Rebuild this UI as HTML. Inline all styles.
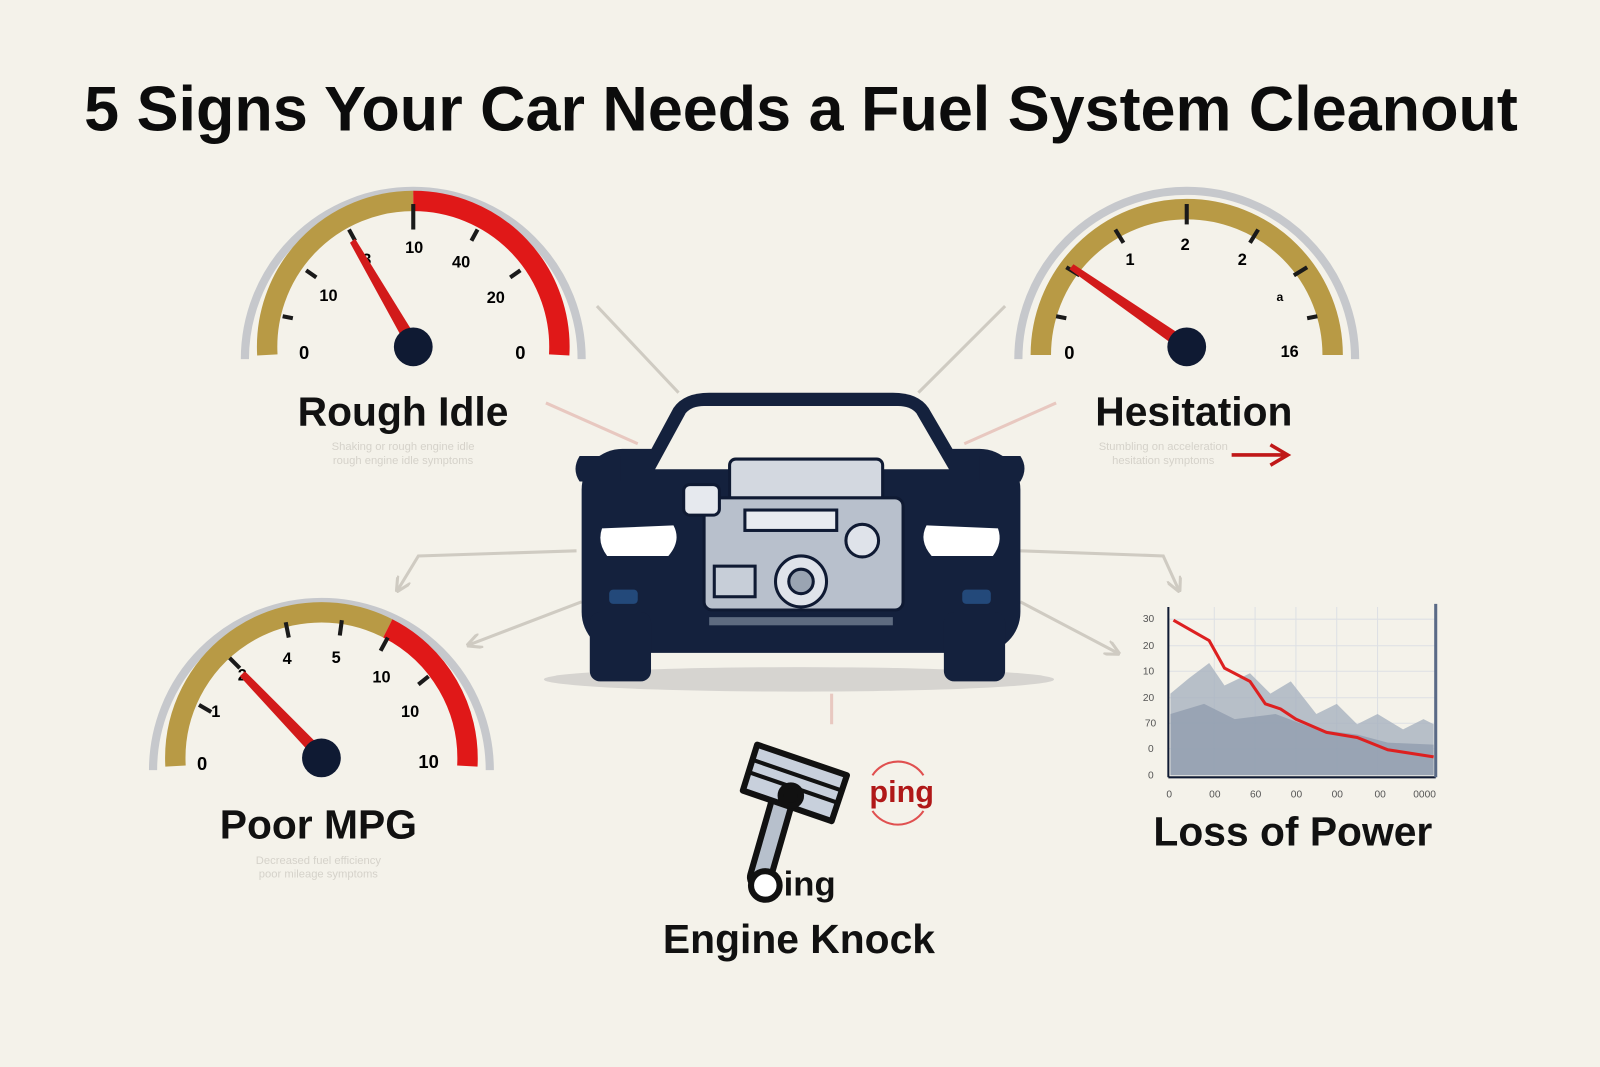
<!DOCTYPE html>
<html><head><meta charset="utf-8"><style>
html,body{margin:0;padding:0;background:#f4f2ea;}
svg{display:block}
text{font-family:"Liberation Sans",sans-serif;}
</style></head><body>
<svg width="1600" height="1067" viewBox="0 0 1568 1046" preserveAspectRatio="none" xmlns="http://www.w3.org/2000/svg">
<defs>
<marker id="ah" viewBox="0 0 10 10" refX="8" refY="5" markerWidth="5" markerHeight="5" orient="auto"><path d="M0,0 L10,5 L0,10" fill="none" stroke="#cfcbc2" stroke-width="2"/></marker>
</defs>
<rect width="1568" height="1046" fill="#f4f2ea"/>
<text x="785" y="128" text-anchor="middle" font-size="62" font-weight="bold" fill="#0c0c0c" textLength="1405" lengthAdjust="spacingAndGlyphs">5 Signs Your Car Needs a Fuel System Cleanout</text>

<!-- connectors -->
<g stroke="#cfcbc2" stroke-width="3" fill="none">
<line x1="585" y1="300" x2="665" y2="385"/>
<line x1="985" y1="300" x2="900" y2="385"/>
<line x1="1035" y1="395" x2="945" y2="435" stroke="#e8c8c0"/>
<line x1="535" y1="395" x2="625" y2="435" stroke="#e8c8c0"/>
<polyline points="565,540 410,545 390,578" marker-end="url(#ah)"/>
<polyline points="1000,540 1140,545 1155,578" marker-end="url(#ah)"/>
<line x1="570" y1="590" x2="460" y2="632" marker-end="url(#ah)"/>
<line x1="1000" y1="590" x2="1095" y2="640" marker-end="url(#ah)"/>
<line x1="815" y1="680" x2="815" y2="710" stroke="#e8c8c0"/>
</g>

<!-- Gauge 1 -->
<g transform="translate(405,340)">
<path d="M-165,12 A165,165 0 0 1 165,12" fill="none" stroke="#c6c8cc" stroke-width="8"/>
<path d="M-143,8 A143,143 0 0 1 0,-143" fill="none" stroke="#b89a45" stroke-width="20"/>
<path d="M0,-143 A143,143 0 0 1 143,8" fill="none" stroke="#e01818" stroke-width="20"/>
<g stroke="#1a1a1a" stroke-width="4">
<line x1="-128" y1="-30" x2="-118" y2="-28"/><line x1="-105" y1="-75" x2="-95" y2="-68"/>
<line x1="-63" y1="-115" x2="-57" y2="-104"/><line x1="0" y1="-140" x2="0" y2="-115"/>
<line x1="63" y1="-115" x2="57" y2="-104"/><line x1="105" y1="-75" x2="95" y2="-68"/>
</g>
<text x="-112" y="12" font-size="18" font-weight="bold">0</text>
<text x="-92" y="-45" font-size="16" font-weight="bold">10</text>
<text x="-50" y="-80" font-size="16" font-weight="bold">3</text>
<text x="-8" y="-92" font-size="16" font-weight="bold">10</text>
<text x="38" y="-78" font-size="16" font-weight="bold">40</text>
<text x="72" y="-43" font-size="16" font-weight="bold">20</text>
<text x="100" y="12" font-size="18" font-weight="bold">0</text>
<polygon points="-62,-102 -57,-106 6,-4 -4,4" fill="#d21a1a"/>
<circle r="19" fill="#0f1a33"/>
</g>
<text x="395" y="417" text-anchor="middle" font-size="40" font-weight="bold" fill="#111">Rough Idle</text>
<text x="395" y="441" text-anchor="middle" font-size="11" fill="#d5d2ca">Shaking or rough engine idle</text>
<text x="395" y="455" text-anchor="middle" font-size="11" fill="#d5d2ca">rough engine idle symptoms</text>

<!-- Gauge 2 -->
<g transform="translate(1163,340)">
<path d="M-165,12 A165,165 0 0 1 165,12" fill="none" stroke="#c6c8cc" stroke-width="8"/>
<path d="M-143,8 A143,143 0 0 1 143,8" fill="none" stroke="#b89a45" stroke-width="20"/>
<g stroke="#1a1a1a" stroke-width="4">
<line x1="-128" y1="-30" x2="-118" y2="-28"/><line x1="-118" y1="-78" x2="-105" y2="-70"/>
<line x1="-70" y1="-115" x2="-62" y2="-102"/><line x1="0" y1="-140" x2="0" y2="-120"/>
<line x1="70" y1="-115" x2="62" y2="-102"/><line x1="118" y1="-78" x2="105" y2="-70"/>
<line x1="128" y1="-30" x2="118" y2="-28"/>
</g>
<text x="-120" y="12" font-size="18" font-weight="bold">0</text>
<text x="-60" y="-80" font-size="16" font-weight="bold">1</text>
<text x="-6" y="-95" font-size="16" font-weight="bold">2</text>
<text x="50" y="-80" font-size="16" font-weight="bold">2</text>
<text x="88" y="-45" font-size="12" font-weight="bold">a</text>
<text x="92" y="10" font-size="16" font-weight="bold">16</text>
<polygon points="-115,-76 -111,-81 6,-4 -2,6" fill="#d21a1a"/>
<circle r="19" fill="#0f1a33"/>
</g>
<text x="1170" y="417" text-anchor="middle" font-size="40" font-weight="bold" fill="#111">Hesitation</text>
<text x="1140" y="441" text-anchor="middle" font-size="11" fill="#d5d2ca">Stumbling on acceleration</text>
<text x="1140" y="455" text-anchor="middle" font-size="11" fill="#d5d2ca">hesitation symptoms</text>
<path d="M1207,446 H1260 M1245,436 L1262,446 L1245,456" stroke="#c01818" stroke-width="3.5" fill="none"/>

<!-- Gauge 3 -->
<g transform="translate(315,743)">
<path d="M-165,12 A165,165 0 0 1 165,12" fill="none" stroke="#c6c8cc" stroke-width="8"/>
<path d="M-143,8 A143,143 0 0 1 65,-127" fill="none" stroke="#b89a45" stroke-width="20"/>
<path d="M65,-127 A143,143 0 0 1 143,8" fill="none" stroke="#e01818" stroke-width="20"/>
<g stroke="#1a1a1a" stroke-width="4">
<line x1="-120" y1="-52" x2="-108" y2="-45"/><line x1="-90" y1="-98" x2="-80" y2="-88"/>
<line x1="-35" y1="-133" x2="-32" y2="-118"/><line x1="20" y1="-135" x2="18" y2="-120"/>
<line x1="65" y1="-118" x2="58" y2="-105"/><line x1="105" y1="-80" x2="95" y2="-72"/>
</g>
<text x="-122" y="12" font-size="18" font-weight="bold">0</text>
<text x="-108" y="-40" font-size="16" font-weight="bold">1</text>
<text x="-82" y="-76" font-size="16" font-weight="bold">2</text>
<text x="-38" y="-92" font-size="16" font-weight="bold">4</text>
<text x="10" y="-93" font-size="16" font-weight="bold">5</text>
<text x="50" y="-74" font-size="16" font-weight="bold">10</text>
<text x="78" y="-40" font-size="16" font-weight="bold">10</text>
<text x="95" y="10" font-size="18" font-weight="bold">10</text>
<polygon points="-80,-80 -75,-85 6,-4 -2,5" fill="#d21a1a"/>
<circle r="19" fill="#0f1a33"/>
</g>
<text x="312" y="822" text-anchor="middle" font-size="40" font-weight="bold" fill="#111">Poor MPG</text>
<text x="312" y="847" text-anchor="middle" font-size="11" fill="#d5d2ca">Decreased fuel efficiency</text>
<text x="312" y="860" text-anchor="middle" font-size="11" fill="#d5d2ca">poor mileage symptoms</text>

<!-- Car -->
<ellipse cx="783" cy="666" rx="250" ry="12" fill="#d6d4d0"/>
<g fill="#14213d">
<path d="M625,465 L660,400 Q670,385 695,385 L875,385 Q900,385 910,400 L948,465 Z"/>
<rect x="570" y="440" width="430" height="200" rx="40"/>
<rect x="578" y="600" width="60" height="68" rx="10"/>
<rect x="925" y="600" width="60" height="68" rx="10"/>
<path d="M568,447 h40 v25 h-40 q-8,-12 0,-25z"/>
<path d="M960,447 h40 q8,12 0,25 h-40z"/>
</g>
<path d="M642,460 L672,405 Q678,398 690,398 L880,398 Q892,398 898,405 L930,460 Z" fill="#f4f2ea"/>
<path d="M590,518 L660,515 Q668,530 655,545 L595,545 Q585,532 590,518Z" fill="#fff"/>
<path d="M978,518 L908,515 Q900,530 913,545 L973,545 Q983,532 978,518Z" fill="#fff"/>
<rect x="597" y="578" width="28" height="14" rx="4" fill="#23497a"/>
<rect x="943" y="578" width="28" height="14" rx="4" fill="#23497a"/>
<rect x="695" y="605" width="180" height="8" fill="#5e6b80"/>
<!-- engine -->
<g stroke="#0f1a33" stroke-width="3">
<rect x="715" y="450" width="150" height="42" rx="6" fill="#d3d8e0"/>
<rect x="690" y="488" width="195" height="110" rx="8" fill="#b8c0cc"/>
<rect x="670" y="475" width="35" height="30" rx="6" fill="#e6e9ee"/>
<circle cx="785" cy="570" r="25" fill="#dfe3ea"/>
<circle cx="785" cy="570" r="12" fill="#9aa4b2"/>
<circle cx="845" cy="530" r="16" fill="#dfe3ea"/>
<rect x="700" y="555" width="40" height="30" fill="#c7ced8"/>
<rect x="730" y="500" width="90" height="20" fill="#e8ebf0"/>
</g>

<!-- Chart -->
<g font-size="10" fill="#555">
<text x="1120" y="610">30</text><text x="1120" y="636">20</text><text x="1120" y="661">10</text>
<text x="1120" y="687">20</text><text x="1122" y="712">70</text><text x="1125" y="737">0</text><text x="1125" y="763">0</text>
<text x="1143" y="782">0</text><text x="1185" y="782">00</text><text x="1225" y="782">60</text><text x="1265" y="782">00</text>
<text x="1305" y="782">00</text><text x="1347" y="782">00</text><text x="1385" y="782">0000</text>
</g>
<g stroke="#dde0e4" stroke-width="1">
<line x1="1145" y1="607" x2="1407" y2="607"/><line x1="1145" y1="633" x2="1407" y2="633"/>
<line x1="1145" y1="658" x2="1407" y2="658"/><line x1="1145" y1="684" x2="1407" y2="684"/>
<line x1="1145" y1="709" x2="1407" y2="709"/><line x1="1145" y1="734" x2="1407" y2="734"/>
<line x1="1190" y1="595" x2="1190" y2="760"/><line x1="1230" y1="595" x2="1230" y2="760"/>
<line x1="1270" y1="595" x2="1270" y2="760"/><line x1="1310" y1="595" x2="1310" y2="760"/>
<line x1="1350" y1="595" x2="1350" y2="760"/>
</g>
<path d="M1147,680 L1165,665 L1185,650 L1200,672 L1225,660 L1245,680 L1265,668 L1290,700 L1310,690 L1330,710 L1350,700 L1375,715 L1395,705 L1405,710 L1405,760 L1147,760Z" fill="#a8b1bf" opacity="0.8"/>
<path d="M1147,700 L1180,690 L1210,705 L1250,700 L1290,715 L1330,720 L1360,728 L1405,730 L1405,760 L1147,760Z" fill="#8593a6" opacity="0.6"/>
<polyline points="1150,608 1185,628 1200,655 1225,668 1240,690 1255,695 1270,705 1300,718 1330,723 1360,735 1405,742" fill="none" stroke="#dd2020" stroke-width="3"/>
<line x1="1145" y1="595" x2="1145" y2="762" stroke="#0f1a33" stroke-width="2"/>
<line x1="1145" y1="762" x2="1407" y2="762" stroke="#0f1a33" stroke-width="2"/>
<line x1="1407" y1="592" x2="1407" y2="762" stroke="#5a6a86" stroke-width="3"/>
<text x="1267" y="829" text-anchor="middle" font-size="40" font-weight="bold" fill="#111">Loss of Power</text>

<!-- Piston -->
<g stroke="#111" stroke-width="6" stroke-linejoin="round">
<path d="M768,780 L745,860" stroke="#111" stroke-width="26" stroke-linecap="round"/>
<path d="M768,780 L745,860" stroke="#b7c0cc" stroke-width="14" stroke-linecap="round"/>
<circle cx="750" cy="868" r="14" fill="#fff"/>
<path d="M742,730 L830,760 L815,805 L728,775 Z" fill="#c8d0dc"/>
<line x1="738" y1="745" x2="825" y2="775" stroke-width="4"/>
<line x1="734" y1="757" x2="821" y2="787" stroke-width="4"/>
<circle cx="775" cy="780" r="10" fill="#111"/>
</g>
<text x="768" y="878" font-size="34" font-weight="bold" fill="#111">ing</text>
<text x="852" y="786" font-size="30" font-weight="bold" fill="#b01818">ping</text>
<path d="M855,760 A30,30 0 0 1 905,760" fill="none" stroke="#e05050" stroke-width="2"/>
<path d="M855,795 A30,30 0 0 0 905,795" fill="none" stroke="#e05050" stroke-width="2"/>
<text x="783" y="934" text-anchor="middle" font-size="40" font-weight="bold" fill="#111">Engine Knock</text>
</svg>
</body></html>
